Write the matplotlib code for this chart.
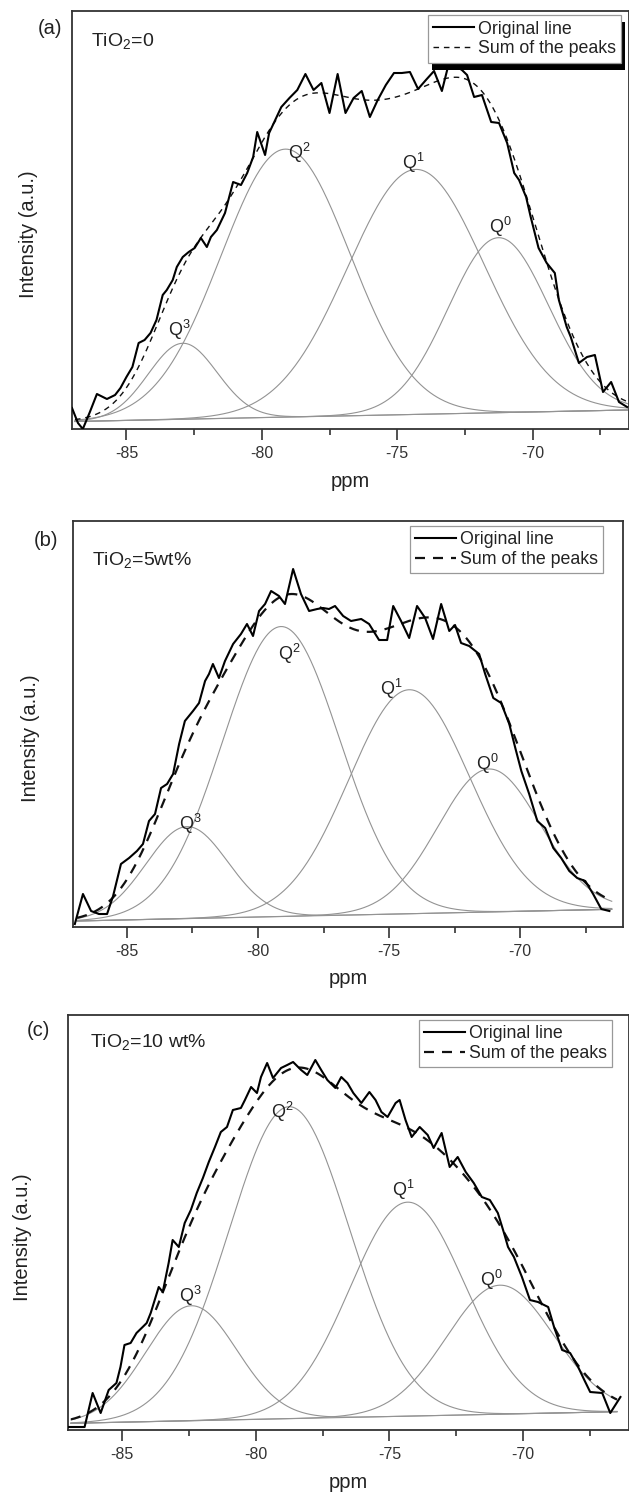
import numpy as np
import matplotlib.pyplot as plt
from matplotlib.patches import Rectangle
from matplotlib.ticker import MultipleLocator

plt.rcParams['font.family'] = ['Liberation Sans', 'DejaVu Sans']
plt.rcParams['mathtext.default'] = 'regular'
plt.rcParams['axes.unicode_minus'] = False

W, H = 629, 1500

# ---- 29Si NMR spectra, intensities in arbitrary units ----
# (a) TiO2 = 0
a_ppm = [-87.01, -86.79, -86.61, -86.35, -86.09, -85.72, -85.42, -85.22, -85.00, -84.78,
         -84.55, -84.33, -84.11, -83.89, -83.66, -83.51, -83.29, -83.14,
         -82.92, -82.70, -82.48, -82.25, -82.03, -81.88, -81.66, -81.36, -81.06, -80.77,
         -80.54, -80.32, -80.17, -79.88, -79.73, -79.28, -78.98, -78.69, -78.39, -78.09,
         -77.80, -77.50, -77.20, -76.91, -76.61, -76.31, -76.01, -75.72, -75.42, -75.12,
         -74.83, -74.53, -74.23, -73.94, -73.64, -73.35, -73.09, -72.90, -72.61, -72.42,
         -72.16, -71.87, -71.53, -71.24, -70.94, -70.68, -70.50, -70.24, -70.07, -69.78,
         -69.48, -69.18, -69.03, -68.74, -68.59, -68.29, -67.99, -67.70, -67.40, -67.10,
         -66.81, -66.51]
a_int = [21, 6, 0, 17, 35, 30, 34, 41, 52, 62,
         86, 89, 96, 109, 134, 139, 149, 162,
         172, 177, 181, 191, 182, 192, 199, 216, 247, 244,
         256, 272, 297, 274, 296, 322, 331, 339, 355, 339,
         346, 316, 355, 316, 331, 338, 312, 329, 344, 356,
         356, 357, 340, 349, 358, 338, 366, 364, 359, 354,
         332, 334, 307, 306, 286, 256, 249, 232, 212, 181,
         166, 156, 129, 102, 92, 66, 72, 74, 37, 47,
         27, 22]
# Gaussian components Q3, Q2, Q1, Q0
a_center = [-82.92, -79.13, -74.31, -71.26]
a_height = [76, 268, 245, 175]
a_sigma = [1.27, 2.38, 2.52, 1.85]
a_base = [7.5, 19.0]

# (b) TiO2 = 5 wt%
b_ppm = [-86.99, -86.68, -86.37, -86.07, -85.76, -85.53, -85.23, -84.92, -84.62, -84.39,
         -84.16, -83.93, -83.70, -83.47, -83.24, -83.01, -82.79, -82.48, -82.25, -82.02,
         -81.87, -81.72, -81.49, -81.26, -80.95, -80.65, -80.42, -80.19, -79.96, -79.73,
         -79.50, -79.20, -78.97, -78.66, -78.36, -78.05, -77.74, -77.52, -77.29, -77.06,
         -76.75, -76.45, -76.06, -75.76, -75.38, -75.07, -74.84, -74.54, -74.23, -73.93,
         -73.62, -73.32, -73.01, -72.70, -72.48, -72.25, -71.94, -71.56, -71.33, -71.02,
         -70.72, -70.41, -70.18, -69.95, -69.65, -69.34, -69.04, -68.73, -68.43, -68.12,
         -67.82, -67.51, -67.21, -66.90, -66.59]
b_int = [3, 33, 16, 13, 13, 31, 63, 69, 76, 83,
         106, 113, 139, 143, 153, 183, 206, 216, 224, 246,
         253, 263, 249, 266, 283, 293, 303, 291, 316, 323,
         336, 331, 323, 358, 333, 316, 318, 319, 318, 321,
         311, 306, 308, 303, 287, 287, 321, 306, 289, 321,
         309, 288, 323, 296, 302, 284, 281, 273, 253, 229,
         224, 203, 179, 156, 133, 106, 99, 79, 69, 56,
         49, 46, 33, 18, 16]
b_center = [-82.71, -79.12, -74.23, -71.18]
b_height = [92, 290, 224, 143]
b_sigma = [1.56, 2.24, 2.30, 1.95]
b_base = [6.0, 17.7]

# (c) TiO2 = 10 wt%
c_ppm = [-87.02, -86.39, -86.09, -85.79, -85.49, -85.20, -85.05, -84.90, -84.67, -84.45,
         -84.22, -84.07, -83.92, -83.77, -83.62, -83.47, -83.25, -83.10, -82.87, -82.65,
         -82.42, -82.20, -81.97, -81.75, -81.52, -81.30, -81.07, -80.85, -80.55, -80.40,
         -80.17, -79.95, -79.80, -79.57, -79.35, -79.05, -78.82, -78.60, -78.30, -78.07,
         -77.77, -77.55, -77.32, -77.02, -76.80, -76.57, -76.35, -76.05, -75.75, -75.52,
         -75.30, -75.07, -74.77, -74.62, -74.40, -74.17, -73.87, -73.57, -73.35, -73.05,
         -72.75, -72.45, -72.15, -71.85, -71.55, -71.25, -70.95, -70.72, -70.57, -70.35,
         -70.05, -69.75, -69.45, -69.07, -68.85, -68.55, -68.25, -67.95, -67.72, -67.50,
         -67.05, -66.75, -66.37]
c_int = [3, 3, 37, 17, 40, 47, 63, 85, 87, 97,
         103, 107, 117, 130, 143, 138, 167, 190, 183, 207,
         220, 237, 252, 268, 283, 298, 303, 320, 322, 330,
         343, 337, 353, 367, 352, 362, 365, 368, 360, 355,
         370, 360, 350, 342, 353, 347, 337, 327, 338, 330,
         318, 313, 327, 330, 310, 293, 303, 295, 282, 297,
         263, 273, 258, 247, 233, 230, 217, 197, 183, 173,
         153, 130, 128, 123, 103, 80, 77, 63, 50, 38,
         37, 17, 33]
c_center = [-82.4, -78.75, -74.32, -70.87]
c_height = [115, 312, 214, 129]
c_sigma = [1.7, 2.25, 2.15, 2.0]
c_base = [6.7, 18.3]

q_names = ['Q$^{3}$', 'Q$^{2}$', 'Q$^{1}$', 'Q$^{0}$']
base_ppm = [-86.9, -66.5]

panels = [
    dict(ppm=a_ppm, inten=a_int, center=a_center, height=a_height, sigma=a_sigma, base=a_base,
         rect=(72, 11, 629, 429), xlim=(-87.01, -66.44), letter='(a)', letter_xy=(50, 29),
         tio2='TiO$_2$=0', tio2_xy=(0.034, 0.916),
         qpos=[(-83.05, 99), (-78.6, 276), (-74.4, 266), (-71.2, 202)],
         ylab_x=-0.061, leg_anchor=(0.986, 0.990), sum_ls=(0, (4, 3.5)), sum_lw=1.0,
         shadow=True),
    dict(ppm=b_ppm, inten=b_int, center=b_center, height=b_height, sigma=b_sigma, base=b_base,
         rect=(73, 521, 623, 927), xlim=(-87.06, -66.07), letter='(b)', letter_xy=(46, 540),
         tio2='TiO$_2$=5wt%', tio2_xy=(0.035, 0.892),
         qpos=[(-82.6, 103), (-78.8, 273), (-74.93, 238), (-71.24, 163)],
         ylab_x=-0.060, leg_anchor=(0.964, 0.988), sum_ls=(0, (4.5, 3.6)), sum_lw=1.6,
         shadow=False),
    dict(ppm=c_ppm, inten=c_int, center=c_center, height=c_height, sigma=c_sigma, base=c_base,
         rect=(68, 1015, 629, 1430), xlim=(-87.01, -66.05), letter='(c)', letter_xy=(38, 1030),
         tio2='TiO$_2$=10 wt%', tio2_xy=(0.039, 0.923),
         qpos=[(-82.45, 134), (-79.0, 318), (-74.47, 240), (-71.2, 150)],
         ylab_x=-0.064, leg_anchor=(0.970, 0.988), sum_ls=(0, (4.5, 3.6)), sum_lw=1.6,
         shadow=False),
]

fig = plt.figure(figsize=(W / 100, H / 100), dpi=100)
fig.patch.set_facecolor('white')
legends = []

for p in panels:
    x0, y0, x1, y1 = p['rect']
    ax = fig.add_axes([x0 / W, 1 - y1 / H, (x1 - x0) / W, (y1 - y0) / H])
    ax.set_xlim(*p['xlim'])
    ax.set_ylim(0, y1 - y0)

    grid = np.linspace(base_ppm[0], base_ppm[1], 500)
    base = np.interp(grid, base_ppm, p['base'])
    ax.plot(base_ppm, p['base'], color='#939393', lw=0.8)
    total = base.copy()
    for c, h, s in zip(p['center'], p['height'], p['sigma']):
        g = h * np.exp(-(grid - c) ** 2 / (2 * s ** 2))
        total += g
        ax.plot(grid, base + g, color='#939393', lw=0.8)

    ax.plot(p['ppm'], p['inten'], color='black', lw=1.5, label='Original line', zorder=4)
    ax.plot(grid, total, color='#111111', lw=p['sum_lw'], linestyle=p['sum_ls'],
            label='Sum of the peaks', zorder=3)

    for name, (qx, qy) in zip(q_names, p['qpos']):
        ax.text(qx, qy, name, fontsize=13, ha='center', va='center', color='#222222')

    ax.text(*p['tio2_xy'], p['tio2'], transform=ax.transAxes, fontsize=14,
            ha='left', va='baseline', color='#222222')
    fig.text(p['letter_xy'][0] / W, 1 - p['letter_xy'][1] / H, p['letter'],
             fontsize=14.5, ha='center', va='center', color='#222222')

    ax.set_yticks([])
    ax.xaxis.set_major_locator(MultipleLocator(5))
    ax.xaxis.set_minor_locator(MultipleLocator(2.5))
    ax.tick_params(axis='x', which='major', direction='out', length=8, width=1.2,
                   colors='#333333', labelsize=11.5, pad=4.5)
    ax.tick_params(axis='x', which='minor', direction='out', length=4.5, width=1.2,
                   colors='#333333')
    for sp in ax.spines.values():
        sp.set_color('#333333')
        sp.set_linewidth(1.3)

    ax.set_xlabel('ppm', fontsize=14.5, color='#222222')
    ax.xaxis.set_label_coords(0.5, -0.103)
    ax.set_ylabel('Intensity (a.u.)', fontsize=14.5, color='#222222')
    ax.yaxis.set_label_coords(p['ylab_x'], 0.465)

    leg = ax.legend(loc='upper right', bbox_to_anchor=p['leg_anchor'], borderaxespad=0,
                    fontsize=12.8, handlelength=2.3, handletextpad=0.2, labelspacing=0.15,
                    borderpad=0.3, fancybox=False, framealpha=1, edgecolor='#999999')
    leg.get_frame().set_linewidth(0.9)
    for t in leg.get_texts():
        t.set_color('#222222')
    legends.append((ax, leg, p['shadow']))

# solid drop shadow behind the first legend
fig.canvas.draw()
for ax, leg, shadow in legends:
    if not shadow:
        continue
    bb = leg.get_window_extent()
    ax.add_patch(Rectangle(((bb.x0 + 4) / W, (bb.y0 - 7) / H), bb.width / W, bb.height / H,
                           transform=fig.transFigure, facecolor='black', edgecolor='none',
                           clip_on=False, zorder=4.9))

fig.savefig('out.png', dpi=100, facecolor='white')
